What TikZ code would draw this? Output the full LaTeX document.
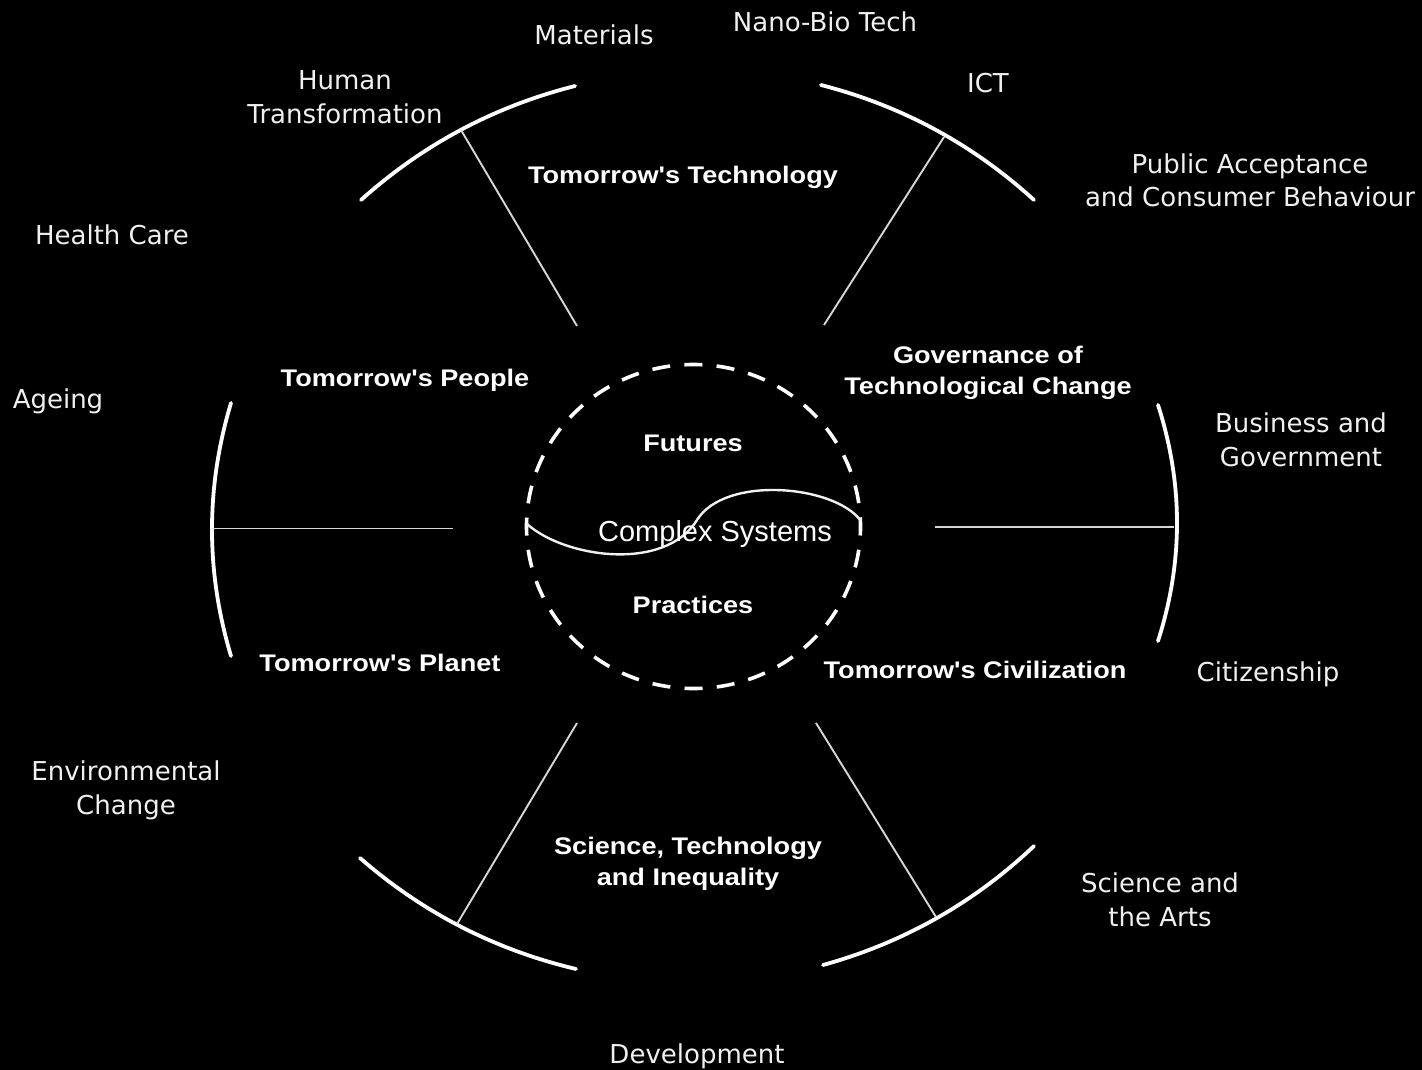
\documentclass[tikz,border=0pt]{standalone}
\usepackage{fontspec}
\setmainfont{DejaVu Sans}
\newfontfamily\comicf{DejaVu Sans}
\newfontfamily\boldf{Liberation Sans Bold}[FakeStretch=1.13]
\newfontfamily\arialf{Liberation Sans}
\usetikzlibrary{calc}
\definecolor{offwhite}{RGB}{240,240,240}
\definecolor{spokegray}{RGB}{215,215,215}
\newcommand\qarc[3]{\draw[arcline] (#1) .. controls ($(#1)!2/3!(#2)$) and ($(#3)!2/3!(#2)$) .. (#3);}
\tikzset{
  outer/.style={text=offwhite, font=\comicf\fontsize{26}{34}\selectfont, align=center, anchor=base, inner sep=0pt},
  inner/.style={text=white, font=\boldf\fontsize{24}{31}\selectfont, align=center, anchor=base, inner sep=0pt},
  arcline/.style={draw=white, line width=3.8pt, line cap=round},
  spoke/.style={draw=spokegray, line width=1.9pt},
  dashcircle/.style={draw=white, line width=3.6pt, dash pattern=on 18pt off 14.3pt, dash phase=9pt},
  scurve/.style={draw=offwhite, line width=2.4pt}
}
\begin{document}
\begin{tikzpicture}[x=1pt,y=-1pt]
\fill[black] (0,0) rectangle (1422,1070);
\useasboundingbox (0,0) rectangle (1422,1070);

% arcs: endpoints and quadratic control points
\coordinate (tlA) at (361,200); \coordinate (tlC) at (454,116.6); \coordinate (tlB) at (575,86);
\coordinate (trA) at (821,85); \coordinate (trC) at (941.7,116); \coordinate (trB) at (1034,200);
\coordinate (lA) at (231,403); \coordinate (lC) at (193,529.5); \coordinate (lB) at (231,656);
\coordinate (rA) at (1158,405); \coordinate (rC) at (1196,523); \coordinate (rB) at (1158,641);
\coordinate (blA) at (360,858); \coordinate (blC) at (454.2,940.1); \coordinate (blB) at (576,969);
\coordinate (brA) at (823,965); \coordinate (brC) at (943.3,931.7); \coordinate (brB) at (1034,846);
\qarc{tlA}{tlC}{tlB}
\qarc{trA}{trC}{trB}
\qarc{lA}{lC}{lB}
\qarc{rA}{rC}{rB}
\qarc{blA}{blC}{blB}
\qarc{brA}{brC}{brB}

% spokes
\coordinate (tlO) at (461,130); \coordinate (tlI) at (577,326);
\coordinate (trO) at (944,137); \coordinate (trI) at (824,325);
\coordinate (lO) at (212,528.5); \coordinate (lI) at (453,528.5);
\coordinate (rO) at (1174,527); \coordinate (rI) at (935,527);
\coordinate (blO) at (457,924); \coordinate (blI) at (577,723);
\coordinate (brO) at (936,917); \coordinate (brI) at (816,723);
\draw[spoke] (tlO) -- (tlI);
\draw[spoke] (trO) -- (trI);
\draw[spoke] (lO) -- (lI);
\draw[spoke] (rO) -- (rI);
\draw[spoke] (blO) -- (blI);
\draw[spoke] (brO) -- (brI);

% centre
\coordinate (ctr) at (693.5,526.5);
\draw[dashcircle] (ctr) ellipse [x radius=167, y radius=162];
\coordinate (sL) at (527,524); \coordinate (sM) at (697,520); \coordinate (sR) at (861,521);
\draw[scurve] (sL) .. controls (565,558) and (665,572) .. (sM)
  .. controls (725,475) and (835,485) .. (sR);

% inner labels
\node[inner] (tech) at (683,183) {Tomorrow's Technology};
\node[inner] (people) at (405,386) {Tomorrow's People};
\node[inner] (gov) at (988,394.5) {Governance of\\Technological Change};
\node[inner] (fut) at (693,451) {Futures};
\node[text=white, font=\arialf\fontsize{29}{34}\selectfont, anchor=base, inner sep=0pt] (cs) at (715,541.5) {Complex Systems};
\node[inner] (prac) at (693,613) {Practices};
\node[inner] (planet) at (380,671) {Tomorrow's Planet};
\node[inner] (civ) at (975,678) {Tomorrow's Civilization};
\node[inner] (sti) at (688,885.5) {Science, Technology\\and Inequality};

% outer labels
\node[outer] (mat) at (594,45) {Materials};
\node[outer] (nano) at (825,32) {Nano-Bio Tech};
\node[outer] (ict) at (988,93) {ICT};
\node[outer] (human) at (345,124) {Human\\Transformation};
\node[outer] (public) at (1250,207) {Public Acceptance\\and Consumer Behaviour};
\node[outer] (health) at (112,244) {Health Care};
\node[outer] (ageing) at (58,408) {Ageing};
\node[outer] (bus) at (1301,466) {Business and\\Government};
\node[outer] (citi) at (1268,681) {Citizenship};
\node[outer] (env) at (126,814) {Environmental\\Change};
\node[outer] (arts) at (1160,926) {Science and\\the Arts};
\node[outer] (dev) at (697,1063) {Development};
\end{tikzpicture}
\end{document}
